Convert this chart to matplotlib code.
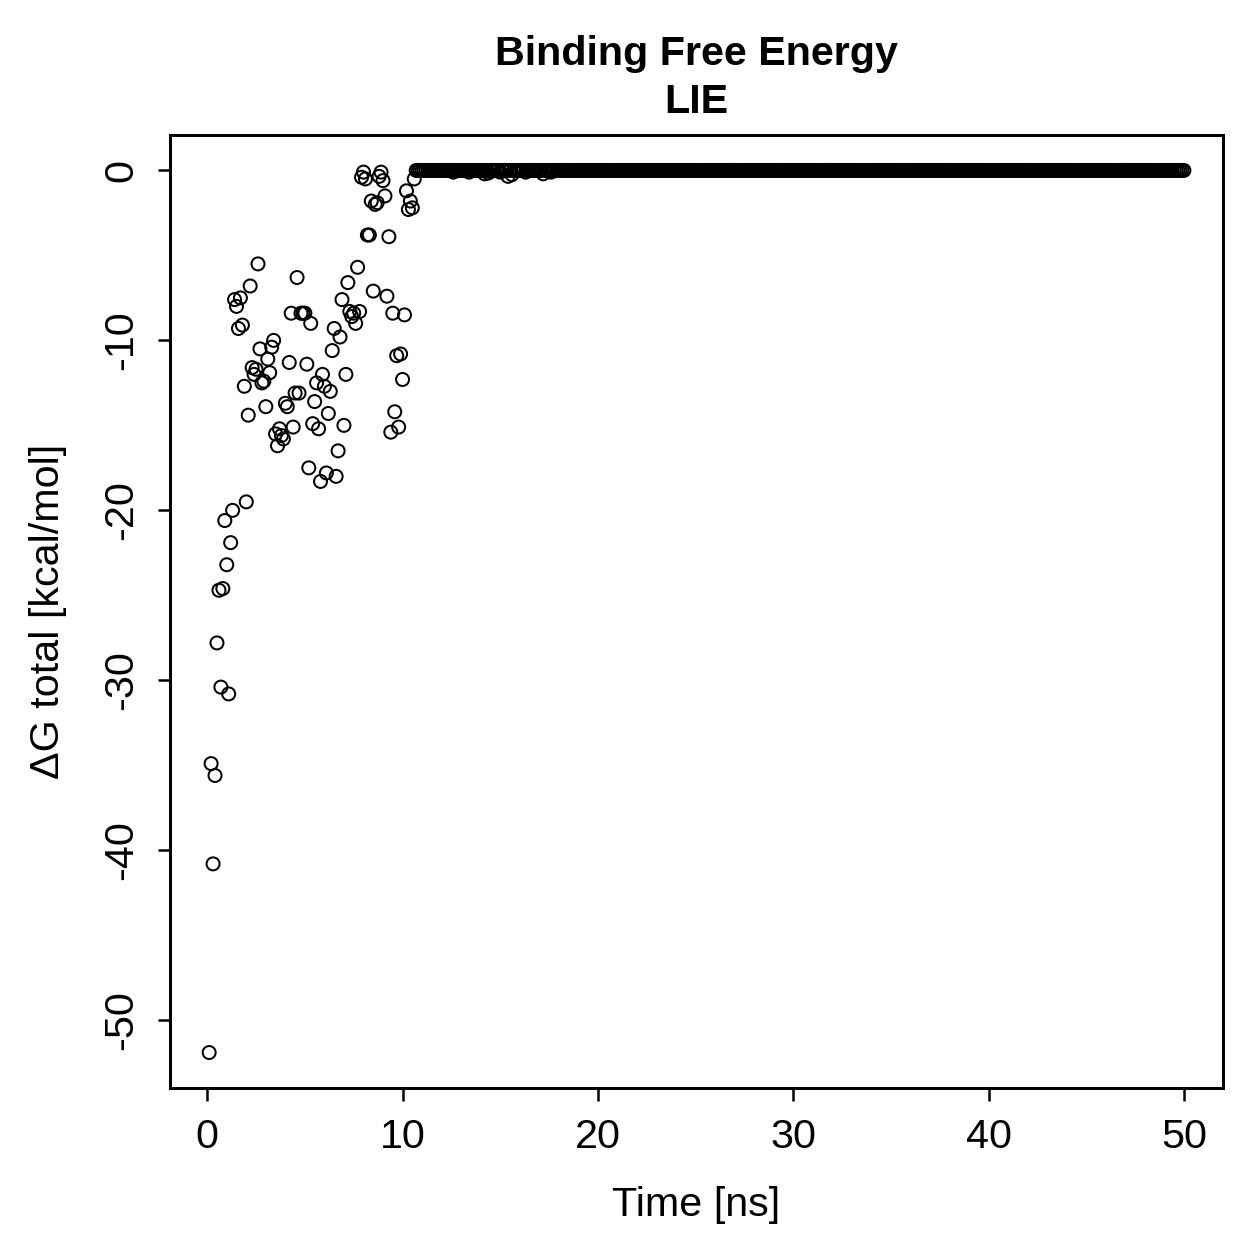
import matplotlib
matplotlib.use("Agg")
import matplotlib.pyplot as plt
import numpy as np

plt.rcParams['font.family'] = ['Liberation Sans', 'DejaVu Sans']
plt.rcParams['axes.unicode_minus'] = False

# Early (scattered) part of the trajectory, 0.1 ns steps
early_time = [round(0.1 * i, 1) for i in range(1, 107)]
early_dg = [
    -51.9, -34.9, -40.8, -35.6, -27.8, -24.7, -30.4, -24.6, -20.6, -23.2,
    -30.8, -21.9, -20.0, -7.6, -8.0, -9.3, -7.5, -9.1, -12.7, -19.5,
    -14.4, -6.8, -11.6, -12.0, -11.7, -5.5, -10.5, -12.5, -12.4, -13.9,
    -11.1, -11.9, -10.4, -10.0, -15.5, -16.2, -15.2, -15.6, -15.8, -13.7,
    -13.9, -11.3, -8.4, -15.1, -13.1, -6.3, -13.1, -8.4, -8.4, -8.4,
    -11.4, -17.5, -9.0, -14.9, -13.6, -12.5, -15.2, -18.3, -12.0, -12.7,
    -17.8, -14.3, -13.0, -10.6, -9.3, -18.0, -16.5, -9.8, -7.6, -15.0,
    -12.0, -6.6, -8.3, -8.6, -8.4, -9.0, -5.7, -8.3, -0.4, -0.1,
    -0.5, -3.8, -3.8, -1.8, -7.1, -2.0, -1.9, -0.35, -0.1, -0.6,
    -1.5, -7.4, -3.9, -15.4, -8.4, -14.2, -10.9, -15.1, -10.8, -12.3,
    -8.5, -1.2, -2.3, -1.8, -2.2, -0.5,
]

# Late part: essentially zero, with a few small dips
late_time = [round(0.1 * i, 1) for i in range(107, 501)]
late_dips = {12.6: -0.1, 13.4: -0.1, 14.2: -0.2, 14.4: -0.15, 15.0: -0.1,
             15.4: -0.35, 15.6: -0.25, 16.3: -0.1, 17.2: -0.2, 17.6: -0.1}
late_dg = [late_dips.get(t, 0.0) for t in late_time]

time = early_time + late_time
dg = early_dg + late_dg

fig = plt.figure(figsize=(7, 7), dpi=180)
ax = fig.add_axes([0.135, 0.1366, 0.8356, 0.7562])
ax.scatter(time, dg, s=27, facecolors='none', edgecolors='black', linewidths=0.8)

ax.set_xlim(-1.9, 52.0)
ax.set_ylim(-53.98, 2.08)
ax.set_xticks([0, 10, 20, 30, 40, 50])
ax.set_yticks([0, -10, -20, -30, -40, -50])
ax.tick_params(direction='out', length=5, width=1.0, labelsize=16.5, pad=7)
for lab in ax.get_yticklabels():
    lab.set_rotation(90)
    lab.set_va('center')
for sp in ax.spines.values():
    sp.set_linewidth(1.2)

ax.set_xlabel('Time [ns]', fontsize=16.5, labelpad=12)
ax.set_ylabel('ΔG total [kcal/mol]', fontsize=16.5, labelpad=14)
ax.set_title('Binding Free Energy\nLIE', fontsize=16.5, fontweight='bold', pad=9, linespacing=1.32)

fig.savefig('out.png', dpi=180)
